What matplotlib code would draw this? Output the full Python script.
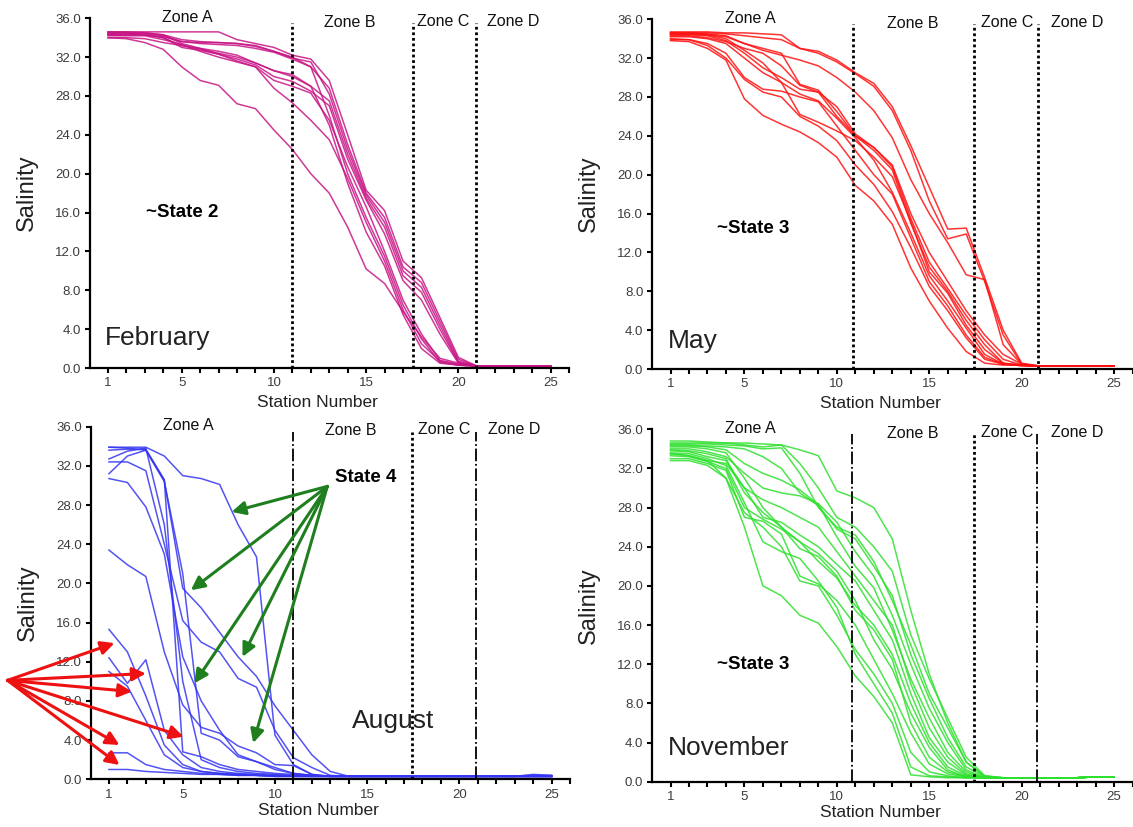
import matplotlib
matplotlib.use("Agg")
import matplotlib.pyplot as plt
from matplotlib import rcParams

rcParams.update({
    "font.family": ["Liberation Sans", "DejaVu Sans"],
    "axes.linewidth": 1.6,
    "axes.spines.top": False,
    "axes.spines.right": False,
})

# ── data: salinity per station (1..25), one list per survey ─────────
stations = list(range(1, 26))

feb_lines = [
    [34.6, 34.6, 34.6, 34.6, 34.6, 34.6, 34.6, 33.8, 33.4, 33.0, 32.2, 31.8, 29.6, 24.0, 18.3, 16.2, 11.0, 9.3, 5.2, 1.1, 0.2, 0.2, 0.2, 0.2, 0.2],
    [34.5, 34.5, 34.5, 34.3, 33.8, 33.6, 33.5, 33.4, 33.2, 32.6, 32.0, 31.0, 28.8, 23.0, 18.0, 15.5, 10.4, 8.8, 4.8, 0.9, 0.2, 0.2, 0.2, 0.2, 0.2],
    [34.4, 34.4, 34.4, 34.2, 33.6, 33.5, 33.5, 33.4, 33.1, 32.6, 31.9, 31.5, 28.2, 22.5, 17.8, 15.0, 10.0, 8.3, 4.4, 0.7, 0.2, 0.2, 0.2, 0.2, 0.2],
    [34.3, 34.3, 34.3, 34.0, 33.2, 32.9, 32.6, 32.2, 31.4, 30.6, 30.0, 29.0, 27.5, 22.0, 17.5, 14.5, 9.5, 7.8, 4.0, 0.6, 0.2, 0.2, 0.2, 0.2, 0.2],
    [34.5, 34.5, 34.3, 34.0, 33.0, 32.7, 32.3, 31.8, 31.2, 30.0, 29.5, 28.5, 27.0, 21.5, 17.3, 13.8, 9.0, 7.0, 3.5, 0.5, 0.2, 0.2, 0.2, 0.2, 0.2],
    [34.2, 34.2, 34.2, 33.8, 33.3, 32.6, 32.0, 31.5, 31.0, 29.6, 29.0, 28.3, 25.5, 20.7, 16.6, 12.0, 7.0, 3.5, 0.8, 0.4, 0.2, 0.2, 0.2, 0.2, 0.2],
    [34.6, 34.6, 34.5, 34.3, 33.4, 32.9, 32.3, 31.6, 31.0, 28.8, 27.3, 25.5, 23.5, 19.5, 15.0, 11.0, 6.0, 2.5, 0.7, 0.3, 0.2, 0.2, 0.2, 0.2, 0.2],
    [34.3, 34.3, 34.3, 34.1, 33.6, 33.4, 33.3, 33.2, 32.9, 32.5, 31.8, 31.0, 26.0, 20.0, 15.5, 11.5, 6.5, 3.0, 0.6, 0.3, 0.2, 0.2, 0.2, 0.2, 0.2],
    [34.0, 34.0, 33.9, 33.5, 33.2, 32.8, 32.4, 32.0, 31.4, 30.6, 30.2, 29.0, 25.0, 19.0, 14.0, 10.5, 5.5, 2.0, 0.5, 0.3, 0.2, 0.2, 0.2, 0.2, 0.2],
    [34.0, 33.9, 33.5, 32.8, 31.0, 29.6, 29.1, 27.2, 26.7, 24.5, 22.5, 20.0, 18.0, 14.5, 10.2, 8.7, 5.8, 3.2, 1.0, 0.5, 0.2, 0.2, 0.2, 0.2, 0.2],
]

may_lines = [
    [34.7, 34.7, 34.7, 34.6, 34.6, 34.5, 34.4, 33.0, 32.7, 31.8, 30.5, 29.4, 27.0, 23.0, 18.7, 14.4, 14.5, 9.4, 4.0, 0.6, 0.3, 0.3, 0.3, 0.3, 0.3],
    [34.6, 34.6, 34.6, 34.5, 34.3, 34.1, 33.9, 33.0, 32.5, 31.6, 30.4, 29.1, 26.6, 22.5, 17.3, 13.4, 13.9, 9.0, 3.5, 0.5, 0.3, 0.3, 0.3, 0.3, 0.3],
    [34.5, 34.5, 34.4, 34.2, 33.5, 32.8, 32.3, 31.8, 31.2, 30.0, 28.5, 26.6, 23.8, 19.5, 16.0, 13.0, 9.7, 9.2, 2.5, 0.5, 0.3, 0.3, 0.3, 0.3, 0.3],
    [34.6, 34.6, 34.5, 34.3, 33.5, 33.0, 32.5, 29.3, 28.7, 26.5, 24.0, 22.5, 20.5, 15.0, 10.5, 8.0, 5.0, 2.5, 0.6, 0.3, 0.3, 0.3, 0.3, 0.3, 0.3],
    [34.4, 34.4, 34.3, 33.8, 32.5, 31.0, 30.0, 28.8, 28.5, 26.0, 24.0, 22.8, 20.8, 15.5, 11.0, 8.3, 5.5, 3.0, 1.0, 0.4, 0.3, 0.3, 0.3, 0.3, 0.3],
    [34.5, 34.5, 34.4, 34.0, 32.8, 31.5, 29.5, 26.2, 25.4, 24.5, 23.5, 21.8, 19.8, 15.2, 10.0, 7.8, 4.5, 2.0, 0.6, 0.4, 0.3, 0.3, 0.3, 0.3, 0.3],
    [34.2, 34.2, 34.0, 33.5, 32.0, 30.5, 29.5, 28.3, 27.6, 25.8, 23.8, 21.5, 18.2, 14.0, 9.6, 7.0, 4.2, 1.5, 0.5, 0.4, 0.3, 0.3, 0.3, 0.3, 0.3],
    [34.0, 33.9, 33.5, 32.5, 30.0, 28.8, 28.6, 28.0, 27.5, 25.0, 22.5, 20.0, 18.0, 13.5, 9.0, 6.5, 3.5, 1.2, 0.5, 0.4, 0.3, 0.3, 0.3, 0.3, 0.3],
    [33.9, 33.9, 33.3, 32.0, 29.8, 28.5, 28.0, 26.0, 25.0, 23.5, 21.0, 19.0, 16.2, 12.5, 8.5, 6.0, 3.2, 1.0, 0.5, 0.4, 0.3, 0.3, 0.3, 0.3, 0.3],
    [33.8, 33.7, 33.0, 31.8, 27.8, 26.1, 25.2, 24.4, 23.3, 21.8, 18.9, 17.3, 14.9, 10.4, 7.0, 4.2, 1.8, 0.6, 0.4, 0.4, 0.3, 0.3, 0.3, 0.3, 0.3],
    [34.3, 34.3, 34.1, 33.7, 33.0, 32.5, 31.2, 29.2, 28.5, 27.0, 24.2, 22.8, 21.0, 16.0, 12.0, 9.0, 6.0, 3.5, 1.5, 0.5, 0.3, 0.3, 0.3, 0.3, 0.3],
]

aug_lines = [
    [33.9, 33.9, 33.9, 33.0, 31.0, 30.7, 30.1, 26.0, 22.7, 4.5, 1.5, 0.5, 0.3, 0.3, 0.3, 0.3, 0.3, 0.3, 0.3, 0.3, 0.3, 0.3, 0.3, 0.5, 0.4],
    [31.2, 33.0, 33.6, 30.5, 19.5, 17.5, 15.0, 12.5, 10.5, 7.5, 5.0, 2.5, 0.8, 0.3, 0.3, 0.3, 0.3, 0.3, 0.3, 0.3, 0.3, 0.3, 0.3, 0.4, 0.4],
    [32.4, 32.4, 31.5, 24.0, 16.2, 14.0, 13.0, 10.3, 9.4, 5.0, 2.2, 1.2, 0.4, 0.3, 0.3, 0.3, 0.3, 0.3, 0.3, 0.3, 0.3, 0.3, 0.3, 0.3, 0.3],
    [23.4, 21.9, 20.7, 13.0, 7.6, 5.3, 4.7, 3.4, 2.7, 1.5, 1.4, 0.5, 0.3, 0.3, 0.3, 0.3, 0.3, 0.3, 0.3, 0.3, 0.3, 0.3, 0.3, 0.3, 0.3],
    [30.7, 30.3, 27.8, 23.0, 12.5, 8.0, 5.0, 2.5, 1.8, 1.2, 0.6, 0.4, 0.3, 0.3, 0.3, 0.3, 0.3, 0.3, 0.3, 0.3, 0.3, 0.3, 0.3, 0.3, 0.3],
    [33.6, 33.7, 33.7, 30.6, 2.8, 2.3, 1.5, 1.0, 0.8, 0.6, 0.5, 0.4, 0.3, 0.3, 0.3, 0.3, 0.3, 0.3, 0.3, 0.3, 0.3, 0.3, 0.3, 0.3, 0.3],
    [33.9, 33.8, 33.6, 30.4, 21.0, 4.7, 4.0, 2.3, 1.8, 1.0, 0.6, 0.4, 0.3, 0.3, 0.3, 0.3, 0.3, 0.3, 0.3, 0.3, 0.3, 0.3, 0.3, 0.3, 0.3],
    [32.7, 33.5, 33.8, 26.0, 10.0, 2.0, 1.2, 0.8, 0.6, 0.5, 0.4, 0.3, 0.3, 0.3, 0.3, 0.3, 0.3, 0.3, 0.3, 0.3, 0.3, 0.3, 0.3, 0.3, 0.3],
    [15.3, 13.0, 8.5, 3.5, 1.5, 0.8, 0.6, 0.5, 0.4, 0.4, 0.3, 0.3, 0.3, 0.3, 0.3, 0.3, 0.3, 0.3, 0.3, 0.3, 0.3, 0.3, 0.3, 0.3, 0.3],
    [12.4, 9.8, 12.2, 5.0, 2.5, 1.2, 0.8, 0.6, 0.5, 0.4, 0.3, 0.3, 0.3, 0.3, 0.3, 0.3, 0.3, 0.3, 0.3, 0.3, 0.3, 0.3, 0.3, 0.3, 0.3],
    [11.0, 9.5, 6.0, 2.5, 1.2, 0.8, 0.6, 0.5, 0.4, 0.3, 0.3, 0.3, 0.3, 0.3, 0.3, 0.3, 0.3, 0.3, 0.3, 0.3, 0.3, 0.3, 0.3, 0.3, 0.3],
    [2.7, 2.7, 1.5, 1.0, 0.8, 0.6, 0.5, 0.4, 0.4, 0.3, 0.3, 0.3, 0.3, 0.3, 0.3, 0.3, 0.3, 0.3, 0.3, 0.3, 0.3, 0.3, 0.3, 0.3, 0.3],
    [1.0, 1.0, 0.8, 0.7, 0.6, 0.5, 0.5, 0.4, 0.4, 0.3, 0.3, 0.3, 0.3, 0.3, 0.3, 0.3, 0.3, 0.3, 0.3, 0.3, 0.3, 0.3, 0.3, 0.3, 0.3],
]

nov_lines = [
    [34.6, 34.6, 34.6, 34.6, 34.6, 34.5, 34.4, 33.9, 33.3, 29.7, 29.0, 28.0, 24.8, 17.5, 11.0, 6.0, 2.0, 0.6, 0.4, 0.4, 0.4, 0.4, 0.4, 0.5, 0.5],
    [34.8, 34.8, 34.7, 34.6, 34.4, 34.2, 34.4, 32.5, 30.0, 27.0, 26.0, 24.0, 21.5, 15.0, 10.5, 6.5, 2.5, 0.6, 0.4, 0.4, 0.4, 0.4, 0.4, 0.5, 0.5],
    [34.5, 34.5, 34.5, 34.4, 34.3, 34.0, 34.1, 31.5, 28.0, 26.0, 25.2, 22.5, 18.5, 14.0, 9.0, 5.5, 2.0, 0.5, 0.4, 0.4, 0.4, 0.4, 0.4, 0.5, 0.5],
    [34.3, 34.3, 34.3, 34.2, 34.0, 33.2, 32.0, 29.5, 28.2, 25.8, 24.8, 22.0, 19.0, 13.0, 8.5, 4.5, 1.5, 0.5, 0.4, 0.4, 0.4, 0.4, 0.4, 0.5, 0.5],
    [34.0, 34.0, 33.7, 33.2, 31.5, 30.0, 29.5, 29.2, 28.4, 26.5, 23.5, 21.0, 17.0, 12.0, 7.5, 4.0, 1.2, 0.4, 0.4, 0.4, 0.4, 0.4, 0.4, 0.5, 0.5],
    [34.4, 34.4, 34.2, 33.9, 32.5, 31.5, 30.8, 29.8, 28.3, 25.0, 22.0, 19.8, 15.5, 10.5, 6.5, 3.0, 1.0, 0.4, 0.4, 0.4, 0.4, 0.4, 0.4, 0.5, 0.5],
    [33.8, 33.7, 33.2, 32.8, 30.0, 28.8, 28.0, 27.0, 26.0, 23.5, 21.0, 18.5, 16.0, 10.0, 5.5, 2.5, 0.8, 0.4, 0.4, 0.4, 0.4, 0.4, 0.4, 0.5, 0.5],
    [33.5, 33.3, 32.8, 32.5, 30.0, 27.0, 26.5, 25.2, 24.0, 22.2, 20.5, 17.5, 14.5, 9.0, 4.5, 2.0, 0.7, 0.4, 0.4, 0.4, 0.4, 0.4, 0.4, 0.5, 0.5],
    [33.9, 33.8, 33.5, 33.0, 29.5, 27.5, 26.0, 24.5, 22.5, 20.8, 18.0, 16.0, 13.0, 8.0, 4.0, 1.5, 0.6, 0.4, 0.4, 0.4, 0.4, 0.4, 0.4, 0.5, 0.5],
    [33.3, 33.2, 32.7, 32.0, 28.0, 26.8, 25.8, 24.5, 23.3, 21.5, 18.5, 14.5, 11.5, 7.0, 3.5, 1.2, 0.5, 0.4, 0.4, 0.4, 0.4, 0.4, 0.4, 0.5, 0.5],
    [34.2, 34.2, 34.0, 33.6, 31.0, 28.0, 26.0, 23.8, 23.0, 21.0, 17.5, 15.5, 12.5, 6.0, 2.5, 1.0, 0.5, 0.4, 0.4, 0.4, 0.4, 0.4, 0.4, 0.5, 0.5],
    [33.0, 33.0, 32.5, 31.8, 27.0, 26.6, 25.3, 21.0, 20.2, 18.5, 16.0, 12.5, 9.0, 5.0, 1.8, 0.8, 0.5, 0.4, 0.4, 0.4, 0.4, 0.4, 0.4, 0.5, 0.5],
    [32.8, 32.8, 32.3, 31.0, 27.5, 26.0, 24.0, 20.5, 20.0, 17.0, 13.5, 11.0, 8.0, 3.0, 1.0, 0.6, 0.4, 0.4, 0.4, 0.4, 0.4, 0.4, 0.4, 0.5, 0.5],
    [33.6, 33.5, 33.0, 32.3, 28.5, 24.5, 23.5, 22.8, 20.5, 17.8, 13.0, 10.0, 7.0, 1.5, 0.6, 0.5, 0.4, 0.4, 0.4, 0.4, 0.4, 0.4, 0.4, 0.5, 0.5],
    [33.5, 33.3, 32.8, 31.0, 26.0, 20.0, 19.0, 17.0, 16.2, 13.8, 10.8, 8.7, 6.0, 0.7, 0.5, 0.4, 0.4, 0.4, 0.4, 0.4, 0.4, 0.4, 0.4, 0.5, 0.5],
]

# arrow annotations in the August panel (data units: station, salinity)
red_origin = (-4.5, 10.1)
red_targets = [(1.3, 13.9), (3.0, 10.8), (2.25, 8.95), (5.05, 4.35), (1.57, 3.5), (1.57, 1.46)]
green_origin = (12.84, 29.9)
green_targets = [(7.65, 27.3), (5.44, 19.3), (8.24, 12.5), (5.63, 9.8), (8.82, 3.7)]

zone_names = ["Zone A", "Zone B", "Zone C", "Zone D"]
zone_label_x = [5.3, 14.1, 19.2, 23.0]
zone_label_y = [36.1, 35.6, 35.7, 35.7]

TICK_GRAY = "#3c3c3c"


def draw_panel(fig, rect, lines, color, bounds, bound_styles, month, month_xy, xlabel_y):
    ax = fig.add_axes(rect)
    for vals in lines:
        ax.plot(stations, vals, color=color, lw=1.1, alpha=0.85, solid_joinstyle="round")

    for xb, (ls, lw) in zip(bounds, bound_styles):
        ax.plot([xb, xb], [0, 35.5], color="black", ls=ls, lw=lw, zorder=3)

    for name, zx, zy in zip(zone_names, zone_label_x, zone_label_y):
        ax.text(zx, zy, name, ha="center", va="center", fontsize=11.5, color="#111111")

    ax.text(month_xy[0], month_xy[1], month, ha="left", va="baseline",
            fontsize=19, color="#222222")

    ax.set_xlim(0, 26)
    ax.set_ylim(0, 36)
    ax.set_xticks([1, 5, 10, 15, 20, 25])
    ax.set_xticks(range(1, 27), minor=True)
    ax.set_yticks(range(0, 37, 4))
    ax.set_yticklabels([f"{v:.1f}" for v in range(0, 37, 4)])
    ax.tick_params(axis="both", which="both", direction="out", length=3.8,
                   width=1.5, colors="black", labelcolor=TICK_GRAY, labelsize=9.5)
    ax.tick_params(axis="y", pad=2.5)
    ax.tick_params(axis="x", pad=3)

    ax.set_ylabel("Salinity", fontsize=17, color="#222222")
    ax.yaxis.set_label_coords(-0.108, 0.5)
    ax.set_xlabel("Station Number", fontsize=12.5, color="#222222")
    ax.xaxis.set_label_coords(0.475, xlabel_y)
    return ax


fig = plt.figure(figsize=(11.33, 8.27), dpi=100)

dotted = [((0, (1, 1)), 2.0)] * 3
mixed = [((0, (7, 1.5, 1, 1.5)), 1.3), ((0, (1, 1)), 2.0), ((0, (7, 1.5, 1, 1.5)), 1.3)]

ax_feb = draw_panel(fig, [0.079, 0.555, 0.4232, 0.4229], feb_lines, "#C71585",
                    [11.0, 17.55, 20.95], dotted, "February", (0.85, 2.4), -0.078)
ax_feb.text(5.0, 16.0, "~State 2", ha="center", va="center", fontsize=13.5, fontweight="bold")

ax_may = draw_panel(fig, [0.5755, 0.5538, 0.4241, 0.4229], may_lines, "#FF1010",
                    [10.85, 17.42, 20.9], dotted, "May", (0.87, 2.2), -0.078)
ax_may.text(5.5, 14.5, "~State 3", ha="center", va="center", fontsize=13.5, fontweight="bold")

ax_aug = draw_panel(fig, [0.0799, 0.0577, 0.4232, 0.4264], aug_lines, "#3535F2",
                    [11.0, 17.45, 20.9], mixed, "August", (14.2, 5.2), -0.067)
ax_aug.text(14.9, 30.8, "State 4", ha="center", va="center", fontsize=13.5, fontweight="bold")

ax_nov = draw_panel(fig, [0.5755, 0.0548, 0.4241, 0.4261], nov_lines, "#2EE02E",
                    [10.8, 17.4, 20.85], mixed, "November", (0.87, 2.7), -0.067)
ax_nov.text(5.5, 12.0, "~State 3", ha="center", va="center", fontsize=13.5, fontweight="bold")

for tx, ty in green_targets:
    ax_aug.annotate("", xy=(tx, ty), xytext=green_origin, annotation_clip=False,
                    arrowprops=dict(arrowstyle="-|>", color="#1F7F1F", lw=2.2,
                                    mutation_scale=20, shrinkA=0, shrinkB=0))
for tx, ty in red_targets:
    ax_aug.annotate("", xy=(tx, ty), xytext=red_origin, annotation_clip=False,
                    arrowprops=dict(arrowstyle="-|>", color="#EE1111", lw=2.2,
                                    mutation_scale=20, shrinkA=0, shrinkB=0))

fig.savefig("out.png", dpi=100)
